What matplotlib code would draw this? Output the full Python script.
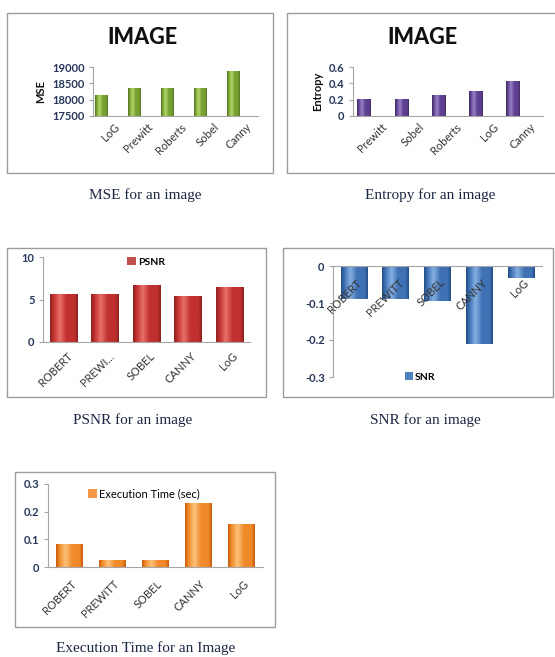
import numpy as np
import matplotlib
matplotlib.use("Agg")
import matplotlib.pyplot as plt
from matplotlib.patches import Rectangle
from matplotlib.colors import LinearSegmentedColormap
from matplotlib.transforms import ScaledTranslation

# ---------------- data ----------------
mse_labels = ["LoG", "Prewitt", "Roberts", "Sobel", "Canny"]
mse_values = [18120, 18355, 18355, 18355, 18875]
mse_ticks = [17500, 18000, 18500, 19000]

ent_labels = ["Prewitt", "Sobel", "Roberts", "LoG", "Canny"]
ent_values = [0.20, 0.20, 0.245, 0.295, 0.425]
ent_ticks = [0, 0.2, 0.4, 0.6]

psnr_labels = ["ROBERT", "PREWI...", "SOBEL", "CANNY", "LoG"]
psnr_values = [5.57, 5.55, 6.59, 5.41, 6.47]
psnr_ticks = [0, 5, 10]

snr_labels = ["ROBERT", "PREWITT", "SOBEL", "CANNY", "LoG"]
snr_values = [-0.088, -0.088, -0.094, -0.210, -0.033]
snr_ticks = [0, -0.1, -0.2, -0.3]

exe_labels = ["ROBERT", "PREWITT", "SOBEL", "CANNY", "LoG"]
exe_values = [0.083, 0.023, 0.023, 0.228, 0.152]
exe_ticks = [0, 0.1, 0.2, 0.3]

# ---------------- style ----------------
W, H = 555, 657
fig = plt.figure(figsize=(W / 100, H / 100), dpi=100)
fig.patch.set_facecolor("white")

TICK_FONT = "Lato"
TICK_COLOR = "#27365A"
XLAB_COLOR = "#333333"
CAP_COLOR = "#1C2744"
SPINE = "#A6A6A6"


def px_axes(x0, x1, ytop, ybot):
    return fig.add_axes([x0 / W, 1 - ybot / H, (x1 - x0) / W, (ybot - ytop) / H])


def box(x0, x1, y0, y1):
    fig.add_artist(Rectangle((x0 / W, 1 - y1 / H), (x1 - x0) / W, (y1 - y0) / H,
                             transform=fig.transFigure, fill=False,
                             ec="#9C9C9C", lw=1.0))


def ftext(x, y, s, **kw):
    fig.text(x / W, 1 - y / H, s, **kw)


def shade(ax, bars, ylim, dark, mid, light):
    cmap = LinearSegmentedColormap.from_list(
        "c", [(0.0, dark), (0.12, mid), (0.35, light), (0.6, mid), (0.88, mid), (1.0, dark)])
    grad = np.linspace(0, 1, 64).reshape(1, -1)
    lo, hi = ylim
    for b in bars:
        x, y = b.get_x(), b.get_y()
        w, h = b.get_width(), b.get_height()
        y0, y1 = sorted((y, y + h))
        y0, y1 = max(y0, lo), min(y1, hi)
        ax.imshow(grad, cmap=cmap, aspect="auto", interpolation="bicubic",
                  extent=(x, x + w, y0, y1), zorder=b.get_zorder() + 0.1)
    ax.set_ylim(lo, hi)


def base_style(ax, ticks, tick_labels=None):
    for s in ["top", "right"]:
        ax.spines[s].set_visible(False)
    ax.spines["left"].set_color(SPINE)
    ax.spines["bottom"].set_color(SPINE)
    ax.set_facecolor("none")
    ax.set_yticks(ticks)
    if tick_labels is not None:
        ax.set_yticklabels(tick_labels)
    ax.tick_params(axis="y", length=3, width=0.8, color=SPINE, pad=3,
                   labelsize=8, labelcolor=TICK_COLOR)
    for t in ax.get_yticklabels():
        t.set_fontfamily(TICK_FONT)
        t.set_fontweight("bold")


def xlabels(ax, labels, dx_px, pad):
    ax.set_xticks(range(len(labels)))
    ax.set_xticklabels(labels, rotation=45, ha="right", va="top",
                       rotation_mode="anchor", fontsize=8, color=XLAB_COLOR,
                       fontfamily=TICK_FONT)
    ax.tick_params(axis="x", length=0, pad=pad)
    off = ScaledTranslation(dx_px / 100, 0, fig.dpi_scale_trans)
    for t in ax.get_xticklabels():
        t.set_transform(t.get_transform() + off)


x = np.arange(5)

# ---------------- panel 1: MSE ----------------
box(7, 273, 13, 173)
ax1 = px_axes(93, 258, 67, 116)
b1 = ax1.bar(x, mse_values, width=0.38, color="#77933C", zorder=2)
shade(ax1, b1, (17500, 19000), "#4F6A22", "#76A030", "#B5D96A")
ax1.set_xlim(-0.25, 4.75)
base_style(ax1, mse_ticks)
xlabels(ax1, mse_labels, 13, 4)
ax1.set_ylabel("MSE", fontsize=8, fontweight="bold", fontfamily=TICK_FONT,
               color="#111111", labelpad=4)
ftext(142, 37, "IMAGE", ha="center", va="center", fontsize=15.5,
      fontweight="black", fontfamily="Lato", color="#111111")
ftext(145, 195, "MSE for an image", ha="center", va="center", fontsize=11,
      fontfamily="Liberation Serif", color=CAP_COLOR)

# ---------------- panel 2: Entropy ----------------
box(287, 556, 13, 173)
ax2 = px_axes(353, 543, 67, 116)
b2 = ax2.bar(x, ent_values, width=0.37, color="#604A7B", zorder=2)
shade(ax2, b2, (0, 0.6), "#3B2A55", "#5E3F92", "#9A82C6")
ax2.set_xlim(-0.3, 4.8)
base_style(ax2, ent_ticks, ["0", "0.2", "0.4", "0.6"])
xlabels(ax2, ent_labels, 17, 4)
ax2.set_ylabel("Entropy", fontsize=8, fontweight="bold", fontfamily=TICK_FONT,
               color="#111111", labelpad=4)
ftext(422, 37, "IMAGE", ha="center", va="center", fontsize=15.5,
      fontweight="black", fontfamily="Lato", color="#111111")
ftext(430, 195, "Entropy for an image", ha="center", va="center", fontsize=11,
      fontfamily="Liberation Serif", color=CAP_COLOR)

# ---------------- panel 3: PSNR ----------------
box(7, 266, 248, 397)
ax3 = px_axes(43, 250, 257, 342)
b3 = ax3.bar(x, psnr_values, width=0.66, color="#C0504D", zorder=2, label="PSNR")
shade(ax3, b3, (0, 10), "#8E2220", "#C0302E", "#E8706A")
ax3.set_xlim(-0.5, 4.5)
base_style(ax3, psnr_ticks)
xlabels(ax3, psnr_labels, 3, 6)
ax3.legend(loc="center", bbox_to_anchor=(146 / W, 1 - 262 / H),
           bbox_transform=fig.transFigure, frameon=False, handlelength=0.8,
           handleheight=0.8, handletextpad=0.2, borderpad=0,
           prop={"family": TICK_FONT, "weight": "bold", "size": 7.5})
ftext(133, 420, "PSNR for an image", ha="center", va="center", fontsize=11,
      fontfamily="Liberation Serif", color=CAP_COLOR)

# ---------------- panel 4: SNR ----------------
box(283, 553, 248, 397)
ax4 = px_axes(333, 542, 266, 377)
b4 = ax4.bar(x, snr_values, width=0.64, color="#4F81BD", zorder=2, label="SNR")
shade(ax4, b4, (-0.3, 0), "#234E85", "#3F72B5", "#86B0E2")
ax4.set_xlim(-0.5, 4.5)
base_style(ax4, snr_ticks, ["0", "-0.1", "-0.2", "-0.3"])
ax4.spines["bottom"].set_visible(False)
ax4.spines["top"].set_visible(True)
ax4.spines["top"].set_color(SPINE)
ax4.set_xticks([])
off4 = ScaledTranslation(2 / 100, -11 / 100, fig.dpi_scale_trans)
for i, lab in enumerate(snr_labels):
    ax4.text(i, 0, lab, rotation=45, ha="right", va="top", rotation_mode="anchor",
             fontsize=8, color=XLAB_COLOR, fontfamily=TICK_FONT,
             transform=ax4.transData + off4, zorder=5)
ax4.legend(loc="center", bbox_to_anchor=(420 / W, 1 - 377 / H),
           bbox_transform=fig.transFigure, frameon=False, handlelength=0.8,
           handleheight=0.8, handletextpad=0.2, borderpad=0,
           prop={"family": TICK_FONT, "weight": "bold", "size": 7.5})
ftext(425, 420, "SNR for an image", ha="center", va="center", fontsize=11,
      fontfamily="Liberation Serif", color=CAP_COLOR)

# ---------------- panel 5: Execution time ----------------
box(15, 275, 472, 627)
ax5 = px_axes(48, 263, 484, 567)
b5 = ax5.bar(x, exe_values, width=0.62, color="#F79646", zorder=2,
             label="Execution Time (sec)")
shade(ax5, b5, (0, 0.3), "#C85A0A", "#F08A2A", "#FCC27A")
ax5.set_xlim(-0.5, 4.5)
base_style(ax5, exe_ticks, ["0", "0.1", "0.2", "0.3"])
xlabels(ax5, exe_labels, 1, 8)
ax5.legend(loc="center", bbox_to_anchor=(144 / W, 1 - 494 / H),
           bbox_transform=fig.transFigure, frameon=False, handlelength=0.8,
           handleheight=0.8, handletextpad=0.2, borderpad=0,
           prop={"family": TICK_FONT, "size": 8})
ftext(146, 648, "Execution Time for an Image", ha="center", va="center",
      fontsize=11, fontfamily="Liberation Serif", color=CAP_COLOR)

fig.savefig("out.png", dpi=100)
